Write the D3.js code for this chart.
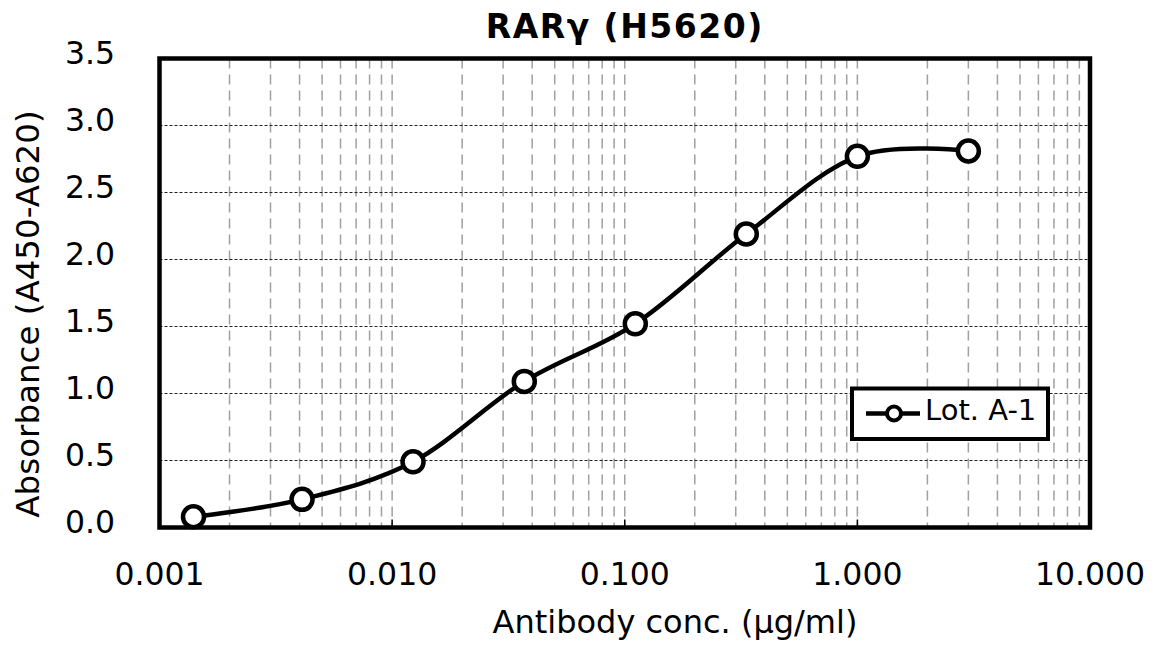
<!DOCTYPE html>
<html>
<head>
<meta charset="utf-8">
<script src="https://d3js.org/d3.v7.min.js"></script>
<style>
  body { margin: 0; background: #fff; }
  text { font-family: "DejaVu Sans", Verdana, sans-serif; fill: #000; }
</style>
</head>
<body>
<svg id="chart" width="1154" height="646"></svg>
<script>
// values
var concs = [0.0014, 0.0041, 0.0123, 0.037, 0.111, 0.333, 1.0, 3.0];
var absorb = [0.08, 0.21, 0.49, 1.09, 1.52, 2.19, 2.77, 2.81];
var xTickLabels = ["0.001", "0.010", "0.100", "1.000", "10.000"];
var yTicks = [0, 0.5, 1.0, 1.5, 2.0, 2.5, 3.0, 3.5];
var seriesName = "Lot. A-1";

var svg = d3.select("#chart");

var pLeft = 159.5, pRight = 1090, pTop = 58.5, pBottom = 527.5;

var x = d3.scaleLog().domain([0.001, 10]).range([pLeft, pRight]);
var y = d3.scaleLinear().domain([0, 3.5]).range([pBottom, pTop]);

// vertical gridlines (all log ticks)
svg.append("g")
    .selectAll("line")
    .data(x.ticks().filter(function (d) { return d > 0.001 && d < 10; }))
    .enter()
    .append("line")
    .attr("x1", function (d) { return x(d); })
    .attr("x2", function (d) { return x(d); })
    .attr("y1", pTop)
    .attr("y2", pBottom)
    .attr("stroke", "#a0a0a0")
    .attr("stroke-width", 1.5)
    .attr("stroke-dasharray", "10,6");

// horizontal gridlines
svg.append("g")
    .selectAll("line")
    .data(yTicks.filter(function (d) { return d > 0 && d < 3.5; }))
    .enter()
    .append("line")
    .attr("x1", pLeft)
    .attr("x2", pRight)
    .attr("y1", function (d) { return y(d); })
    .attr("y2", function (d) { return y(d); })
    .attr("stroke", "#222")
    .attr("stroke-width", 1.2)
    .attr("stroke-dasharray", "3,2");

// small major ticks inside bottom
var majors = xTickLabels.map(function (d) { return +d; });
svg.append("g")
    .selectAll("line")
    .data(majors.slice(1, -1))
    .enter()
    .append("line")
    .attr("x1", function (d) { return x(d); })
    .attr("x2", function (d) { return x(d); })
    .attr("y1", pBottom)
    .attr("y2", pBottom - 8)
    .attr("stroke", "#000")
    .attr("stroke-width", 1.5);

// x tick labels
svg.append("g")
    .selectAll("text")
    .data(xTickLabels)
    .enter()
    .append("text")
    .attr("x", function (d) { return x(+d); })
    .attr("y", 585)
    .attr("text-anchor", "middle")
    .style("font-size", "31.5px")
    .text(function (d) { return d; });

// y tick labels
svg.append("g")
    .selectAll("text")
    .data(yTicks)
    .enter()
    .append("text")
    .attr("x", 115)
    .attr("y", function (d) { return y(d) + 5; })
    .attr("text-anchor", "end")
    .style("font-size", "31.5px")
    .text(function (d) { return d.toFixed(1); });

// the line
var pts = concs.map(function (c, i) { return [x(c), y(absorb[i])]; });
var line = d3.line().curve(d3.curveCardinal.tension(0));

svg.append("path")
    .attr("d", line(pts))
    .attr("fill", "none")
    .attr("stroke", "#000")
    .attr("stroke-width", 4.5);

svg.append("g")
    .selectAll("circle")
    .data(pts)
    .enter()
    .append("circle")
    .attr("cx", function (d) { return d[0]; })
    .attr("cy", function (d) { return d[1]; })
    .attr("r", 10.5)
    .attr("fill", "#fff")
    .attr("stroke", "#000")
    .attr("stroke-width", 4.5);

// plot border
svg.append("rect")
    .attr("x", pLeft)
    .attr("y", pTop)
    .attr("width", pRight - pLeft)
    .attr("height", pBottom - pTop)
    .attr("fill", "none")
    .attr("stroke", "#000")
    .attr("stroke-width", 4.5);

// legend
var lg = svg.append("g");
lg.append("rect")
    .attr("x", 852)
    .attr("y", 388.5)
    .attr("width", 196)
    .attr("height", 50.5)
    .attr("fill", "#fff")
    .attr("stroke", "#000")
    .attr("stroke-width", 4);
lg.append("line")
    .attr("x1", 866).attr("x2", 920)
    .attr("y1", 413.5).attr("y2", 413.5)
    .attr("stroke", "#000")
    .attr("stroke-width", 4.5);
lg.append("circle")
    .attr("cx", 894).attr("cy", 413.5)
    .attr("r", 7)
    .attr("fill", "#fff")
    .attr("stroke", "#000")
    .attr("stroke-width", 4);
lg.append("text")
    .attr("x", 925)
    .attr("y", 420)
    .style("font-size", "29px")
    .text(seriesName);

// titles
svg.append("text")
    .attr("x", (pLeft + pRight) / 2)
    .attr("y", 38)
    .attr("text-anchor", "middle")
    .style("font-size", "33px")
    .style("font-weight", "bold")
    .style("letter-spacing", "1.5px")
    .text("RARγ (H5620)");

svg.append("text")
    .attr("x", 675)
    .attr("y", 633)
    .attr("text-anchor", "middle")
    .style("font-size", "32px")
    .text("Antibody conc. (μg/ml)");

svg.append("text")
    .attr("transform", "translate(39,314) rotate(-90)")
    .attr("text-anchor", "middle")
    .style("font-size", "32.5px")
    .text("Absorbance (A450-A620)");
</script>
</body>
</html>
